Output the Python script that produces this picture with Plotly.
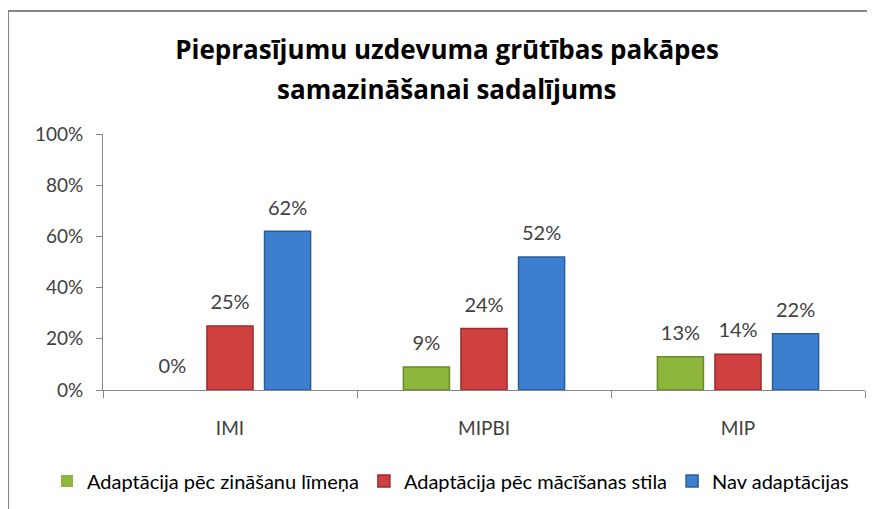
import plotly.graph_objects as go

categories = ["IMI", "MIPBI", "MIP"]
series_names = ["Adaptācija pēc zināšanu līmeņa", "Adaptācija pēc mācīšanas stila", "Nav adaptācijas"]
zinasanu = [0.00, 0.09, 0.13]
macisanas = [0.25, 0.24, 0.14]
nav = [0.62, 0.52, 0.22]
tick_vals = [0, 0.2, 0.4, 0.6, 0.8, 1.0]
title_lines = ["Pieprasījumu uzdevuma grūtības pakāpes", "samazināšanai sadalījums"]

fills = ["#8db63c", "#cf4141", "#3d7fcf"]
edges = ["#6a8a2a", "#9a2c2c", "#2c5d99"]

FONT = "Lato"
LABEL_SIZE = 20
TITLE_FONT = dict(family="Open Sans", size=26, color="#000000")
fig = go.Figure()
for name, vals, fc, ec in zip(series_names, [zinasanu, macisanas, nav], fills, edges):
    fig.add_trace(go.Bar(
        x=categories, y=vals, name=name,
        marker=dict(color=fc, line=dict(color=ec, width=[1.5 if v > 0 else 0 for v in vals])),
        text=[f"<span style='font-size:{LABEL_SIZE}px'>{v*100:.0f}%</span><br> " for v in vals],
        textposition="outside", cliponaxis=False, constraintext="none",
        textfont=dict(family=FONT, size=9, color="#404040"),
    ))

# the page body has an 8px margin; margins below compensate so the plot lands in place
fig.update_layout(
    width=875, height=509,
    margin=dict(l=95, r=18, t=126, b=127),
    paper_bgcolor="white", plot_bgcolor="white",
    barmode="group", bargap=0.32, bargroupgap=0.2,
    title=dict(
        text=f"<b>{title_lines[0]}</b>",
        x=439 / 875, xref="container", xanchor="center",
        y=1 - 42 / 509, yref="container", yanchor="middle",
        font=TITLE_FONT,
    ),
    showlegend=True,
    legend=dict(
        orientation="h", x=-0.0735, xanchor="left", y=-0.355, yanchor="middle",
        font=dict(family=FONT, size=20, color="#000000"),
        itemwidth=30, traceorder="normal",
    ),
    font=dict(family=FONT),
)
fig.add_annotation(
    text=f"<b>{title_lines[1]}</b>", xref="paper", yref="paper",
    x=(439 - 95) / 762, y=(382 - 81) / 256, xanchor="center", yanchor="middle",
    showarrow=False, font=TITLE_FONT,
)
fig.update_yaxes(
    range=[0, 1], tickvals=tick_vals, tickformat=".0%",
    showgrid=False, zeroline=False,
    showline=True, linecolor="#868686", linewidth=1,
    ticks="outside", ticklen=6, tickcolor="#868686", ticklabelstandoff=9,
    tickfont=dict(family=FONT, size=19, color="#404040"),
)
fig.update_xaxes(
    showgrid=False, showline=True, linecolor="#868686", linewidth=1,
    ticks="outside", ticklen=7, tickcolor="#868686", tickson="boundaries",
    ticklabelstandoff=21,
    tickfont=dict(family=FONT, size=19, color="#404040"),
)

# outer chart frame (left and top edges visible)
fx0 = (0 - 95) / 762
fy1 = (382 - 3) / 256
fig.add_shape(type="line", xref="paper", yref="paper", x0=fx0, x1=fx0, y0=-1, y1=fy1,
              line=dict(color="#868686", width=2))
fig.add_shape(type="line", xref="paper", yref="paper", x0=fx0, x1=1.2, y0=fy1, y1=fy1,
              line=dict(color="#868686", width=2))

fig.write_html("out.html")
